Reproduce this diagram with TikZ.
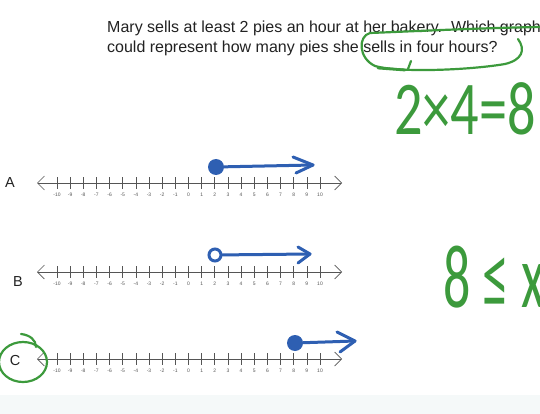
\documentclass[tikz,border=0pt]{standalone}
\usepackage{fontspec}
\usepackage{graphicx}
\setmainfont{Liberation Sans}
\newfontfamily\hw{Carlito}
\usetikzlibrary{arrows.meta}
\definecolor{pen}{HTML}{3C9A3C}
\definecolor{ink}{HTML}{2E5FB2}
\definecolor{axisgray}{HTML}{555555}
\definecolor{band}{HTML}{F5F9F9}
\definecolor{qtext}{HTML}{222222}
\begin{document}
\begin{tikzpicture}[x=1pt,y=-1pt,
  axisline/.style={draw=axisgray, line width=0.7pt, {Straight Barb[length=7pt,width=14pt]}-{Straight Barb[length=7pt,width=14pt]}},
  tickmark/.style={draw=axisgray, line width=0.7pt},
  ticklabel/.style={font=\fontsize{5}{5}\selectfont, text=axisgray, inner sep=0pt},
  letterlabel/.style={font=\fontsize{14.5}{16}\selectfont, inner sep=0pt, text=qtext},
  question/.style={anchor=base west, font=\fontsize{16}{20}\selectfont, inner sep=0pt, text=qtext},
  soliddot/.style={circle, fill=ink, minimum size=16pt, inner sep=0pt},
  opendot/.style={circle, draw=ink, line width=3pt, minimum size=12pt, inner sep=0pt},
  ray/.style={draw=ink, line width=3pt, line cap=round},
  rayhead/.style={draw=ink, line width=3pt, line cap=round, line join=round},
  penstroke/.style={draw=pen, line width=2.2pt, line cap=round, line join=round},
  hand/.style={text=pen, inner sep=0pt, anchor=base west},
]
\useasboundingbox (0,0) rectangle (540,414);
\clip (0,0) rectangle (540,414);
\fill[white] (0,0) rectangle (540,414);
\fill[band] (0,395) rectangle (540,414);

% question text
\node[question] (q1) at (107,33) {Mary sells at least 2 pies an hour at her bakery.\ \ Which graph};
\node[question] (q2) at (107,53) {could represent how many pies she sells in four hours?};

% number lines
\foreach \Y/\n in {183/A, 272/B, 359/C} {
  \coordinate (L\n) at (37,\Y);
  \coordinate (R\n) at (342,\Y);
  \draw[axisline] (L\n) -- (R\n);
  \foreach \k [count=\i] in {-10,...,10} {
    \draw[tickmark] (57+13.15*\k+131.5, \Y-6) -- (57+13.15*\k+131.5, \Y+6);
    \node[ticklabel] (n\n\i) at (57+13.15*\k+131.5, \Y+12) {\k};
  }
}

% letter labels
\node[letterlabel] (labA) at (10,183) {A};
\node[letterlabel] (labB) at (18,282) {B};
\node[letterlabel] (labC) at (15,361) {C};

% graph A
\node[soliddot] (dA) at (216,167) {};
\coordinate (tA) at (313,165);
\coordinate (uA) at (293,157);
\coordinate (wA) at (296,173);
\draw[ray] (dA) -- (tA);
\draw[rayhead] (uA) -- (tA) -- (wA);

% graph B
\node[opendot] (dB) at (215,255) {};
\coordinate (tB) at (310,254);
\coordinate (uB) at (298,247);
\coordinate (wB) at (298,263);
\draw[ray] (dB) -- (tB);
\draw[rayhead] (uB) -- (tB) -- (wB);

% graph C
\node[soliddot] (dC) at (295,343) {};
\coordinate (tC) at (355,341);
\coordinate (uC) at (337,332);
\coordinate (wC) at (340,352);
\draw[ray] (dC) -- (tC);
\draw[rayhead] (uC) -- (tC) -- (wC);

% green annotations
\draw[penstroke] (540,27) .. controls (480,28) and (420,31) .. (370,33)
  .. controls (358,36) and (358,58) .. (375,66)
  .. controls (400,73) and (470,70) .. (505,64)
  .. controls (522,60) and (526,50) .. (518,39);
\draw[penstroke] (411,61) -- (408,69);
\draw[penstroke, line width=2.8pt] (378,68) -- (405,70);
\draw[penstroke] (23,362) ellipse [x radius=24pt, y radius=20pt];
\draw[penstroke] (21,334) .. controls (30,335) and (36,340) .. (36,347);

\node[hand, font=\hw\fontsize{76}{76}\selectfont] (calc) at (394,135) {\scalebox{0.74}[1]{2×4=8}};
\node[hand, font=\hw\fontsize{90}{90}\selectfont] (ineq) at (443,307) {\scalebox{0.6}[1]{8 ≤ x}};
\end{tikzpicture}
\end{document}
